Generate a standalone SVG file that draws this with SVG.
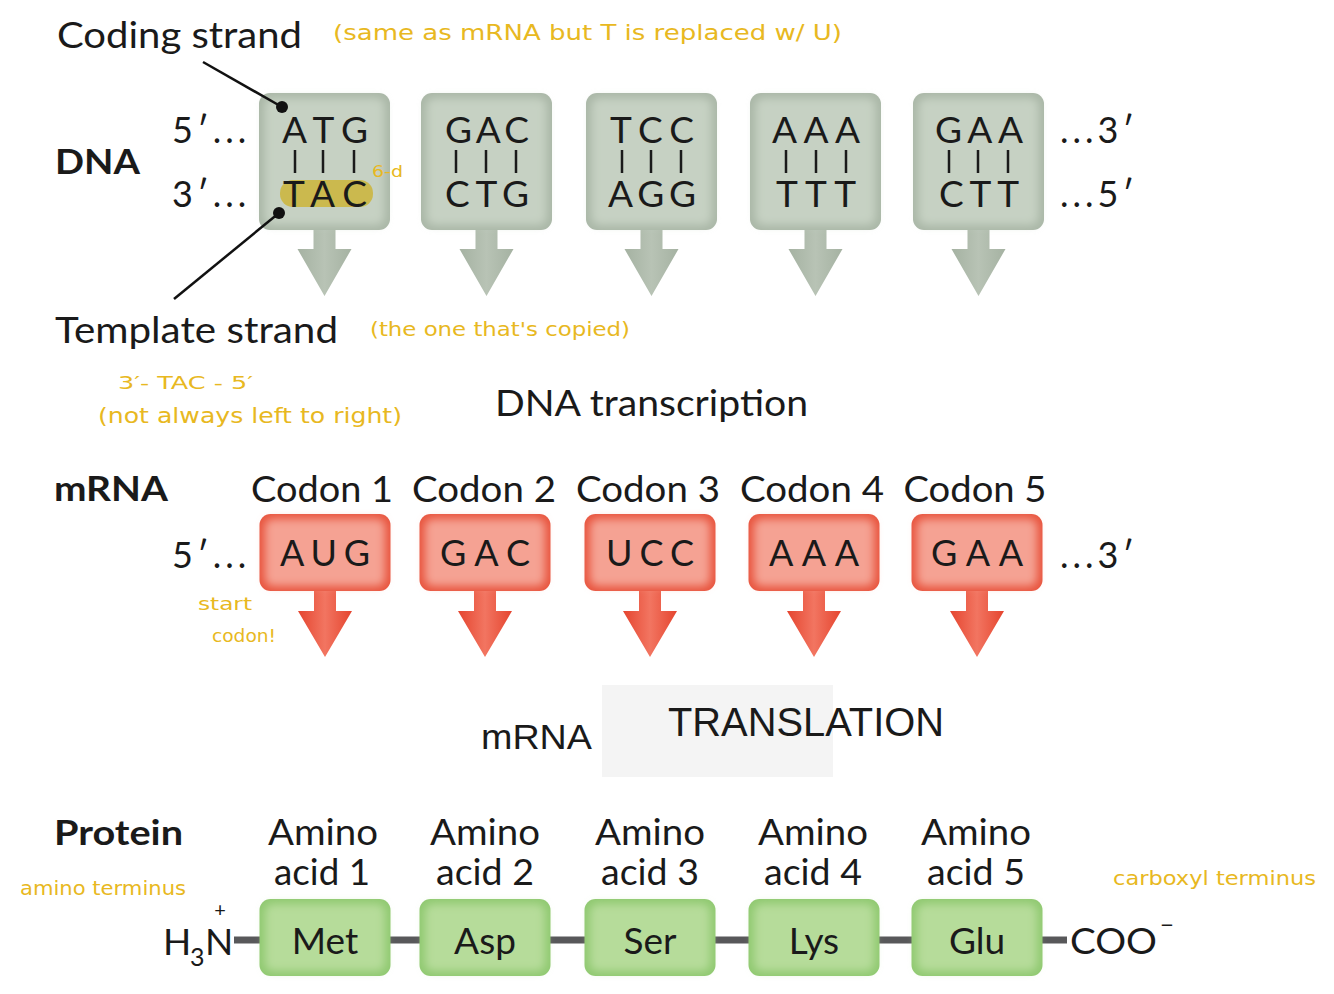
<svg xmlns="http://www.w3.org/2000/svg" xmlns:xlink="http://www.w3.org/1999/xlink" width="1334" height="994" viewBox="0 0 1334 994">
<style>
  .t { font-family: Lato, "Noto Sans", sans-serif; fill: #1a1a1a; }
  .b { font-family: Lato, "Noto Sans", sans-serif; font-weight: bold; fill: #1a1a1a; }
  .a { font-family: "Liberation Sans", Arial, sans-serif; fill: #1a1a1a; }
  .h { font-family: "DejaVu Sans", sans-serif; fill: #e8b821; }
  .tick { stroke: #1a1a1a; stroke-width: 2.5; }
  .bond { stroke: #58585a; stroke-width: 7; }
  .lead { stroke: #111; stroke-width: 2.5; fill: none; }
</style>
<defs>
  <filter id="soft" x="-20%" y="-20%" width="140%" height="140%">
    <feGaussianBlur stdDeviation="4"/>
  </filter>
  <linearGradient id="gArrowDna" x1="0" y1="0" x2="1" y2="0">
    <stop offset="0" stop-color="#a5b2a2"/>
    <stop offset="0.5" stop-color="#b8c3b5"/>
    <stop offset="1" stop-color="#a5b2a2"/>
  </linearGradient>
  <linearGradient id="gArrowRna" x1="0" y1="0" x2="1" y2="0">
    <stop offset="0" stop-color="#e5452f"/>
    <stop offset="0.5" stop-color="#f27561"/>
    <stop offset="1" stop-color="#e5452f"/>
  </linearGradient>
  <g id="dnaShape">
    <polygon points="-11,225 11,225 11,249 27,249 0,296 -27,249 -11,249" fill="url(#gArrowDna)"/>
    <rect x="-65.5" y="93" width="131" height="137" rx="11" fill="#aab7a7"/>
    <rect x="-60" y="98" width="120" height="127" rx="8" fill="#c6d1c3" filter="url(#soft)"/>
  </g>
  <g id="rnaShape">
    <polygon points="-11,585 11,585 11,611 27,611 0,657 -27,611 -11,611" fill="url(#gArrowRna)"/>
    <rect x="-65.5" y="514" width="131" height="77" rx="11" fill="#e8553f"/>
    <rect x="-60" y="519" width="120" height="67" rx="8" fill="#f5a293" filter="url(#soft)"/>
  </g>
  <g id="protShape">
    <rect x="-65.5" y="899" width="131" height="77" rx="11" fill="#90c971"/>
    <rect x="-60" y="904" width="120" height="67" rx="8" fill="#b6dc9a" filter="url(#soft)"/>
  </g>
</defs>
<rect width="1334" height="994" fill="#ffffff"/>

<!-- labels -->
<g id="labels">
  <text class="t" x="57" y="48" font-size="37" textLength="245" lengthAdjust="spacingAndGlyphs">Coding strand</text>
  <text class="b" x="55" y="174" font-size="34" textLength="85" lengthAdjust="spacingAndGlyphs">DNA</text>
  <text class="t" x="172" y="143" font-size="36" letter-spacing="4">5′...</text>
  <text class="t" x="172" y="207" font-size="36" letter-spacing="4">3′...</text>
  <text class="t" x="1060" y="143" font-size="36" letter-spacing="4">...3′</text>
  <text class="t" x="1060" y="207" font-size="36" letter-spacing="4">...5′</text>
  <text class="t" x="55" y="343" font-size="37" textLength="283" lengthAdjust="spacingAndGlyphs">Template strand</text>
  <text class="t" x="495" y="416" font-size="36" textLength="313" lengthAdjust="spacingAndGlyphs">DNA transcription</text>
  <text class="b" x="54" y="501" font-size="34" textLength="114" lengthAdjust="spacingAndGlyphs">mRNA</text>
  <text class="t" x="172" y="568" font-size="36" letter-spacing="4">5′...</text>
  <text class="t" x="1060" y="568" font-size="36" letter-spacing="4">...3′</text>
  <rect x="602" y="685" width="231" height="92" fill="#f4f4f4"/>
  <text class="a" x="481" y="749" font-size="35" textLength="111" lengthAdjust="spacingAndGlyphs">mRNA</text>
  <text class="a" x="668" y="736" font-size="40" textLength="276" lengthAdjust="spacingAndGlyphs">TRANSLATION</text>
  <text class="b" x="54" y="845" font-size="35" textLength="129" lengthAdjust="spacingAndGlyphs">Protein</text>
  <text class="t" x="163" y="955" font-size="37">H</text>
  <text class="t" x="190" y="966" font-size="25">3</text>
  <text class="t" x="205" y="955" font-size="37">N</text>
  <text class="t" x="220" y="917" font-size="20" text-anchor="middle">+</text>
  <text class="t" x="1070" y="954" font-size="37" textLength="87" lengthAdjust="spacingAndGlyphs">COO</text>
  <text class="t" x="1160" y="933" font-size="24">−</text>
</g>

<!-- DNA nodes -->
<g id="dna1">
  <use href="#dnaShape" x="324.5"/>
  <rect x="280" y="180" width="93" height="27" rx="13" fill="#cbb53a" opacity="0.85"/>
  <text class="t" x="325" y="143" font-size="37" text-anchor="middle" textLength="86" lengthAdjust="spacing">ATG</text>
  <line class="tick" x1="295" y1="150" x2="295" y2="173"/><line class="tick" x1="323" y1="150" x2="323" y2="173"/><line class="tick" x1="354" y1="150" x2="354" y2="173"/>
  <text class="t" x="325" y="207" font-size="37" text-anchor="middle" textLength="84" lengthAdjust="spacing">TAC</text>
</g>
<g id="dna2">
  <use href="#dnaShape" x="486.5"/>
  <text class="t" x="487" y="143" font-size="37" text-anchor="middle" textLength="84" lengthAdjust="spacing">GAC</text>
  <line class="tick" x1="456" y1="150" x2="456" y2="173"/><line class="tick" x1="486" y1="150" x2="486" y2="173"/><line class="tick" x1="516" y1="150" x2="516" y2="173"/>
  <text class="t" x="487" y="207" font-size="37" text-anchor="middle" textLength="84" lengthAdjust="spacing">CTG</text>
</g>
<g id="dna3">
  <use href="#dnaShape" x="651.5"/>
  <text class="t" x="652" y="143" font-size="37" text-anchor="middle" textLength="84" lengthAdjust="spacing">TCC</text>
  <line class="tick" x1="622" y1="150" x2="622" y2="173"/><line class="tick" x1="651" y1="150" x2="651" y2="173"/><line class="tick" x1="681" y1="150" x2="681" y2="173"/>
  <text class="t" x="652" y="207" font-size="37" text-anchor="middle" textLength="88" lengthAdjust="spacing">AGG</text>
</g>
<g id="dna4">
  <use href="#dnaShape" x="815.5"/>
  <text class="t" x="816" y="143" font-size="37" text-anchor="middle" textLength="88" lengthAdjust="spacing">AAA</text>
  <line class="tick" x1="786" y1="150" x2="786" y2="173"/><line class="tick" x1="816" y1="150" x2="816" y2="173"/><line class="tick" x1="846" y1="150" x2="846" y2="173"/>
  <text class="t" x="816" y="207" font-size="37" text-anchor="middle" textLength="80" lengthAdjust="spacing">TTT</text>
</g>
<g id="dna5">
  <use href="#dnaShape" x="978.5"/>
  <text class="t" x="979" y="143" font-size="37" text-anchor="middle" textLength="88" lengthAdjust="spacing">GAA</text>
  <line class="tick" x1="949" y1="150" x2="949" y2="173"/><line class="tick" x1="978" y1="150" x2="978" y2="173"/><line class="tick" x1="1008" y1="150" x2="1008" y2="173"/>
  <text class="t" x="979" y="207" font-size="37" text-anchor="middle" textLength="80" lengthAdjust="spacing">CTT</text>
</g>

<!-- mRNA nodes -->
<g id="codon1">
  <text class="t" x="322" y="502" font-size="36" text-anchor="middle" textLength="142" lengthAdjust="spacingAndGlyphs">Codon 1</text>
  <use href="#rnaShape" x="325"/>
  <text class="t" x="325" y="566" font-size="36" text-anchor="middle" textLength="90" lengthAdjust="spacing">AUG</text>
</g>
<g id="codon2">
  <text class="t" x="484" y="502" font-size="36" text-anchor="middle" textLength="144" lengthAdjust="spacingAndGlyphs">Codon 2</text>
  <use href="#rnaShape" x="485"/>
  <text class="t" x="485" y="566" font-size="36" text-anchor="middle" textLength="90" lengthAdjust="spacing">GAC</text>
</g>
<g id="codon3">
  <text class="t" x="648" y="502" font-size="36" text-anchor="middle" textLength="144" lengthAdjust="spacingAndGlyphs">Codon 3</text>
  <use href="#rnaShape" x="650"/>
  <text class="t" x="650" y="566" font-size="36" text-anchor="middle" textLength="88" lengthAdjust="spacing">UCC</text>
</g>
<g id="codon4">
  <text class="t" x="812" y="502" font-size="36" text-anchor="middle" textLength="144" lengthAdjust="spacingAndGlyphs">Codon 4</text>
  <use href="#rnaShape" x="814"/>
  <text class="t" x="814" y="566" font-size="36" text-anchor="middle" textLength="90" lengthAdjust="spacing">AAA</text>
</g>
<g id="codon5">
  <text class="t" x="975" y="502" font-size="36" text-anchor="middle" textLength="143" lengthAdjust="spacingAndGlyphs">Codon 5</text>
  <use href="#rnaShape" x="977"/>
  <text class="t" x="977" y="566" font-size="36" text-anchor="middle" textLength="92" lengthAdjust="spacing">GAA</text>
</g>

<!-- connectors -->
<g id="connectors">
  <line class="lead" x1="203" y1="62" x2="282" y2="107"/>
  <circle cx="282" cy="107" r="6" fill="#111"/>
  <line class="lead" x1="174" y1="299" x2="279" y2="213"/>
  <circle cx="279" cy="213" r="6" fill="#111"/>
  <line class="bond" x1="234" y1="940" x2="260" y2="940"/>
  <line class="bond" x1="390" y1="940" x2="420" y2="940"/>
  <line class="bond" x1="550" y1="940" x2="585" y2="940"/>
  <line class="bond" x1="715" y1="940" x2="749" y2="940"/>
  <line class="bond" x1="879" y1="940" x2="912" y2="940"/>
  <line class="bond" x1="1042" y1="940" x2="1067" y2="940"/>
</g>

<!-- protein nodes -->
<g id="aa1">
  <text class="t" x="323" y="845" font-size="36" text-anchor="middle" textLength="110" lengthAdjust="spacingAndGlyphs">Amino</text>
  <text class="t" x="322" y="885" font-size="36" text-anchor="middle" textLength="96" lengthAdjust="spacingAndGlyphs">acid 1</text>
  <use href="#protShape" x="325"/>
  <text class="t" x="325" y="954" font-size="37" text-anchor="middle">Met</text>
</g>
<g id="aa2">
  <text class="t" x="485" y="845" font-size="36" text-anchor="middle" textLength="110" lengthAdjust="spacingAndGlyphs">Amino</text>
  <text class="t" x="485" y="885" font-size="36" text-anchor="middle" textLength="98" lengthAdjust="spacingAndGlyphs">acid 2</text>
  <use href="#protShape" x="485"/>
  <text class="t" x="485" y="954" font-size="37" text-anchor="middle">Asp</text>
</g>
<g id="aa3">
  <text class="t" x="650" y="845" font-size="36" text-anchor="middle" textLength="110" lengthAdjust="spacingAndGlyphs">Amino</text>
  <text class="t" x="650" y="885" font-size="36" text-anchor="middle" textLength="98" lengthAdjust="spacingAndGlyphs">acid 3</text>
  <use href="#protShape" x="650"/>
  <text class="t" x="650" y="954" font-size="37" text-anchor="middle">Ser</text>
</g>
<g id="aa4">
  <text class="t" x="813" y="845" font-size="36" text-anchor="middle" textLength="110" lengthAdjust="spacingAndGlyphs">Amino</text>
  <text class="t" x="813" y="885" font-size="36" text-anchor="middle" textLength="98" lengthAdjust="spacingAndGlyphs">acid 4</text>
  <use href="#protShape" x="814"/>
  <text class="t" x="814" y="954" font-size="37" text-anchor="middle">Lys</text>
</g>
<g id="aa5">
  <text class="t" x="976" y="845" font-size="36" text-anchor="middle" textLength="110" lengthAdjust="spacingAndGlyphs">Amino</text>
  <text class="t" x="976" y="885" font-size="36" text-anchor="middle" textLength="98" lengthAdjust="spacingAndGlyphs">acid 5</text>
  <use href="#protShape" x="977"/>
  <text class="t" x="977" y="954" font-size="37" text-anchor="middle">Glu</text>
</g>

<!-- handwritten notes -->
<g id="notes">
  <text class="h" x="333" y="40" font-size="21" textLength="509" lengthAdjust="spacingAndGlyphs">(same as mRNA but T is replaced w/ U)</text>
  <text class="h" x="372" y="177" font-size="15" textLength="31" lengthAdjust="spacingAndGlyphs">6-d</text>
  <text class="h" x="370" y="336" font-size="19" textLength="260" lengthAdjust="spacingAndGlyphs">(the one that's copied)</text>
  <text class="h" x="118" y="389" font-size="18" textLength="135" lengthAdjust="spacingAndGlyphs">3′- TAC - 5′</text>
  <text class="h" x="98" y="423" font-size="21" textLength="304" lengthAdjust="spacingAndGlyphs">(not always left to right)</text>
  <text class="h" x="198" y="610" font-size="18" textLength="54" lengthAdjust="spacingAndGlyphs">start</text>
  <text class="h" x="212" y="642" font-size="18" textLength="64" lengthAdjust="spacingAndGlyphs">codon!</text>
  <text class="h" x="20" y="895" font-size="19" textLength="166" lengthAdjust="spacingAndGlyphs">amino terminus</text>
  <text class="h" x="1113" y="885" font-size="20" textLength="203" lengthAdjust="spacingAndGlyphs">carboxyl terminus</text>
</g>
</svg>
